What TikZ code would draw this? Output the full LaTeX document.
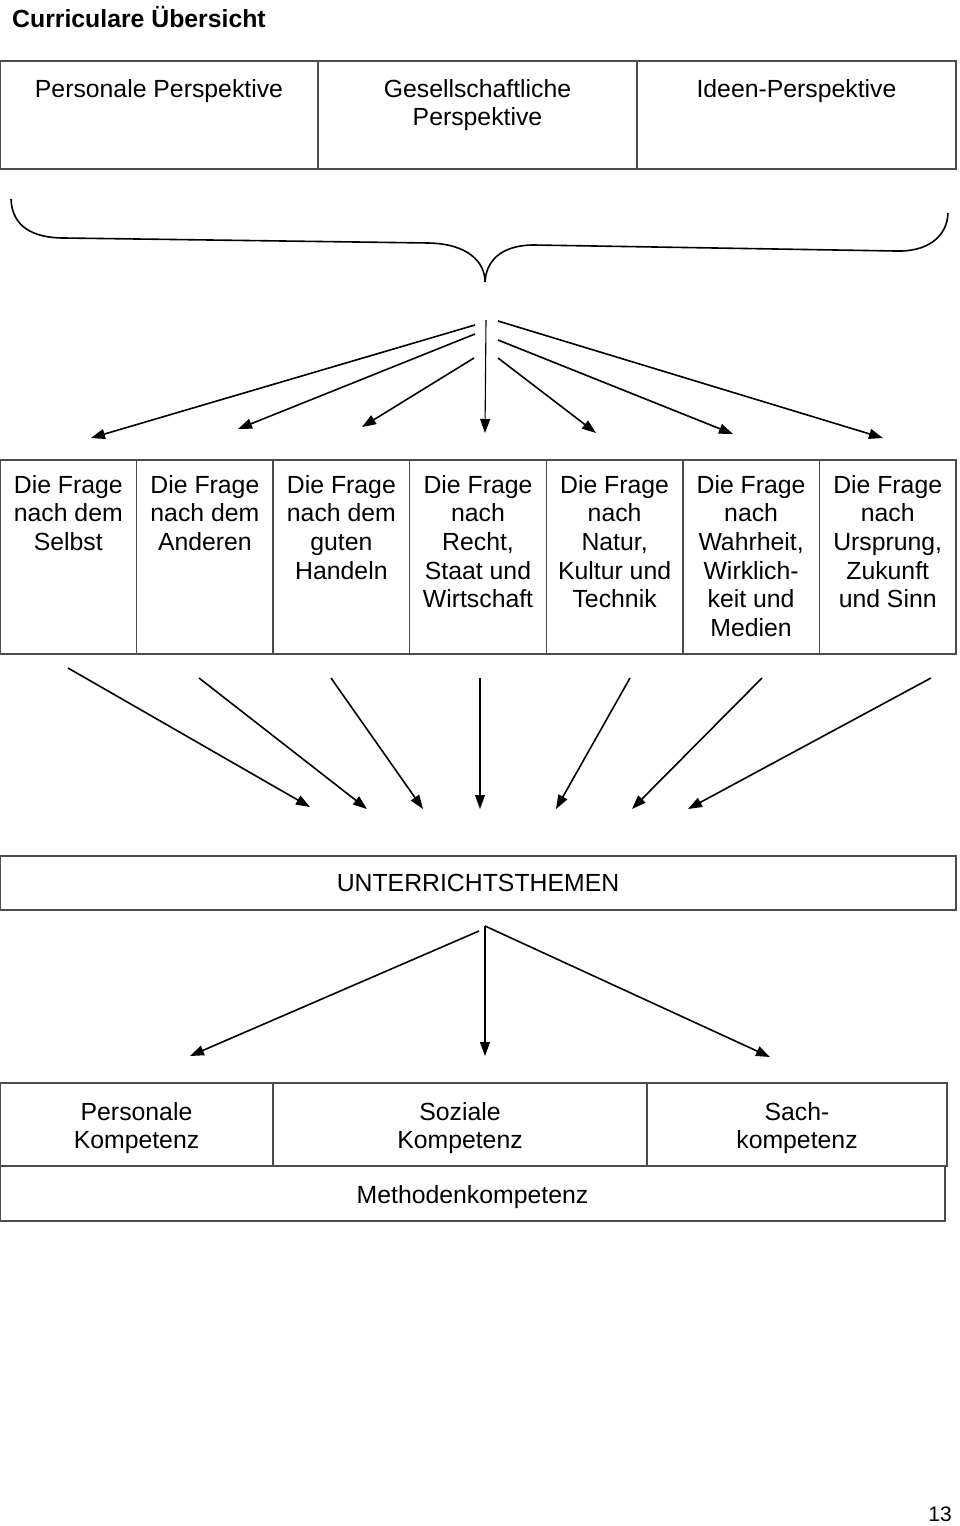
\documentclass[tikz,border=0pt]{standalone}
\usepackage{fontspec}
\setmainfont{Liberation Sans}
\usetikzlibrary{arrows.meta}
\begin{document}
\begin{tikzpicture}[x=1pt,y=-1pt,
  cellbox/.style={draw=black!70,line width=1.4pt,inner sep=0pt,outer sep=0pt,anchor=north west},
  txt/.style={inner sep=0pt,align=center,font=\fontsize{24.8pt}{28.7pt}\selectfont},
  arr/.style={draw=black,line width=1.6pt,-{Triangle[length=14pt,width=10pt]}},
  thinarr/.style={draw=black,line width=1.1pt,-{Triangle[length=14pt,width=10pt]}},
  brace/.style={draw=black,line width=1.6pt}]
\useasboundingbox (0,0) rectangle (960,1526);

% title
\node[txt,anchor=base west,font=\fontsize{24.8pt}{28.7pt}\selectfont\bfseries] (title) at (12,27) {Curriculare Übersicht};

% perspectives
\node[cellbox,minimum width=318pt,minimum height=108pt] (h1) at (0,61) {};
\node[cellbox,minimum width=319pt,minimum height=108pt] (h2) at (318,61) {};
\node[cellbox,minimum width=319pt,minimum height=108pt] (h3) at (637,61) {};
\node[txt,anchor=north] (h1t) at (159,79) {Personale Perspektive};
\node[txt,anchor=north] (h2t) at (477.5,79) {Gesellschaftliche\\Perspektive};
\node[txt,anchor=north] (h3t) at (796.5,79) {Ideen-Perspektive};

% brace
\draw[brace] (11,199) .. controls (12,226) and (32,238) .. (64,238)
  -- (429,243) .. controls (468,244) and (485,262) .. (485,282)
  .. controls (486,262) and (500,245) .. (534,245)
  -- (896,251) .. controls (926,252) and (947,238) .. (948,213);
\coordinate (tip) at (485,282);

% arrows from brace
\coordinate (s1) at (475,325); \coordinate (e1) at (91,438);
\coordinate (s2) at (475,334); \coordinate (e2) at (238,429);
\coordinate (s3) at (474,358); \coordinate (e3) at (362,427);
\coordinate (s4) at (486,320); \coordinate (e4) at (485,433);
\coordinate (s5) at (498,358); \coordinate (e5) at (596,433);
\coordinate (s6) at (498,340); \coordinate (e6) at (733,434);
\coordinate (s7) at (498,321); \coordinate (e7) at (883,438);
\draw[arr] (s1) -- (e1);
\draw[arr] (s2) -- (e2);
\draw[arr] (s3) -- (e3);
\draw[thinarr] (s4) -- (e4);
\draw[arr] (s5) -- (e5);
\draw[arr] (s6) -- (e6);
\draw[arr] (s7) -- (e7);

% seven questions
\foreach \i in {0,...,6}{
  \node[cellbox,minimum width=136.57pt,minimum height=194pt] (q\i) at ({\i*136.57},460) {};
}
\node[txt,anchor=north] (q0t) at (68.3,475) {Die Frage\\nach dem\\Selbst};
\node[txt,anchor=north] (q1t) at (204.9,475) {Die Frage\\nach dem\\Anderen};
\node[txt,anchor=north] (q2t) at (341.4,475) {Die Frage\\nach dem\\guten\\Handeln};
\node[txt,anchor=north] (q3t) at (478.0,475) {Die Frage\\nach\\Recht,\\Staat und\\Wirtschaft};
\node[txt,anchor=north] (q4t) at (614.6,475) {Die Frage\\nach\\Natur,\\Kultur und\\Technik};
\node[txt,anchor=north] (q5t) at (751.1,475) {Die Frage\\nach\\Wahrheit,\\Wirklich-\\keit und\\Medien};
\node[txt,anchor=north] (q6t) at (887.7,475) {Die Frage\\nach\\Ursprung,\\Zukunft\\und Sinn};

% arrows to topics
\coordinate (t1) at (68,668);  \coordinate (u1) at (310,807);
\coordinate (t2) at (199,678); \coordinate (u2) at (367,809);
\coordinate (t3) at (331,678); \coordinate (u3) at (423,809);
\coordinate (t4) at (480,678); \coordinate (u4) at (480,809);
\coordinate (t5) at (630,678); \coordinate (u5) at (556,809);
\coordinate (t6) at (762,678); \coordinate (u6) at (632,809);
\coordinate (t7) at (931,678); \coordinate (u7) at (688,809);
\draw[arr] (t1) -- (u1);
\draw[arr] (t2) -- (u2);
\draw[arr] (t3) -- (u3);
\draw[thinarr] (t4) -- (u4);
\draw[arr] (t5) -- (u5);
\draw[arr] (t6) -- (u6);
\draw[arr] (t7) -- (u7);

% topics
\node[cellbox,minimum width=956pt,minimum height=54pt] (ut) at (0,856) {};
\node[txt] (utt) at (478,883) {UNTERRICHTSTHEMEN};

% arrows to competences
\coordinate (k1) at (479,931); \coordinate (l1) at (190,1056);
\coordinate (k2) at (485,926); \coordinate (l2) at (485,1056);
\coordinate (k3) at (485,926); \coordinate (l3) at (770,1057);
\draw[arr] (k1) -- (l1);
\draw[thinarr] (k2) -- (l2);
\draw[arr] (k3) -- (l3);

% competences
\node[cellbox,minimum width=273pt,minimum height=83pt] (c1) at (0,1083) {};
\node[cellbox,minimum width=374pt,minimum height=83pt] (c2) at (273,1083) {};
\node[cellbox,minimum width=300pt,minimum height=83pt] (c3) at (647,1083) {};
\node[cellbox,minimum width=945pt,minimum height=55pt] (c4) at (0,1166) {};
\node[txt,anchor=north] (c1t) at (136.5,1102) {Personale\\Kompetenz};
\node[txt,anchor=north] (c2t) at (460,1102) {Soziale\\Kompetenz};
\node[txt,anchor=north] (c3t) at (797,1102) {Sach-\\kompetenz};
\node[txt,anchor=north] (c4t) at (472.5,1185) {Methodenkompetenz};

% page number
\node[txt,anchor=base east,font=\fontsize{21pt}{24pt}\selectfont] (pg) at (952,1521) {13};
\end{tikzpicture}
\end{document}
